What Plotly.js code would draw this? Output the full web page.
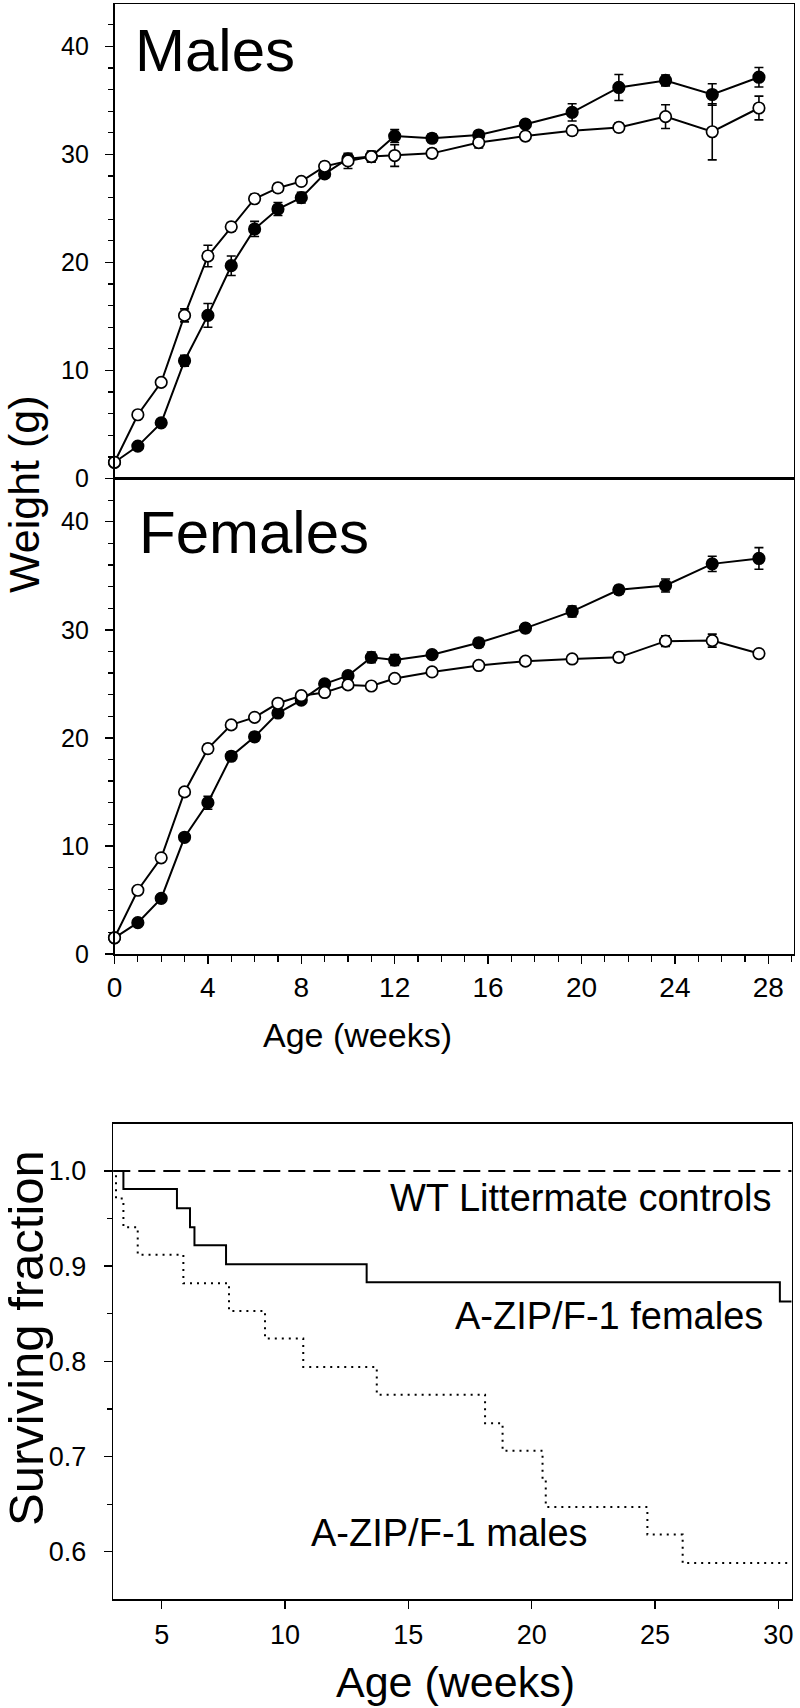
<!DOCTYPE html>
<html><head><meta charset="utf-8">
<script src="https://cdn.plot.ly/plotly-3.0.1.min.js"></script>
<style>html,body{margin:0;padding:0;background:#fff}#chart{width:800px;height:1708px}</style>
</head><body><div id="chart"></div>
<script>
// ---- Weight curves (g) ----
const ageWeeks = [0,1,2,3,4,5,6,7,8,9,10,11,12,13.6,15.6,17.6,19.6,21.6,23.6,25.6,27.6];

const malesWT      = [1.5,5.9,8.9,15.1,20.6,23.3,25.9,26.9,27.5,28.9,29.4,29.8,29.9,30.1,31.1,31.7,32.2,32.5,33.5,32.1,34.3];
const malesWTErr   = [0.2,0.2,0.2,0.6,1.0,0.4,0.4,0.4,0.3,0.4,0.7,0.5,1.0,0.4,0.5,0.4,0.4,0.4,1.1,2.6,1.1];
const malesAZIP    = [1.5,3.0,5.15,10.9,15.1,19.7,23.1,24.95,26.0,28.2,29.6,29.8,31.7,31.5,31.8,32.8,33.9,36.2,36.85,35.55,37.15];
const malesAZIPErr = [0.2,0.2,0.3,0.5,1.1,0.9,0.7,0.6,0.5,0.4,0.4,0.5,0.6,0.4,0.3,0.4,0.8,1.2,0.5,1.0,0.9];

const femalesWT      = [1.5,5.9,8.9,15.0,19.0,21.2,21.9,23.2,23.9,24.2,24.9,24.8,25.5,26.1,26.7,27.1,27.3,27.45,28.95,29.0,27.8];
const femalesWTErr   = [0.2,0.2,0.2,0.2,0.4,0.2,0.2,0.2,0.2,0.2,0.2,0.2,0.2,0.2,0.2,0.2,0.2,0.4,0.5,0.6,0.2];
const femalesAZIP    = [1.5,2.9,5.15,10.8,14.0,18.3,20.1,22.3,23.5,25.0,25.75,27.45,27.2,27.7,28.8,30.15,31.7,33.7,34.1,36.1,36.6];
const femalesAZIPErr = [0.2,0.2,0.2,0.3,0.6,0.4,0.4,0.3,0.3,0.3,0.3,0.5,0.5,0.3,0.4,0.4,0.5,0.4,0.6,0.7,1.0];

// ---- Survival (Kaplan-Meier steps) ----
const survWTAge = [3.04, 30.54];
const survWT    = [1.0, 1.0];
const survFemAge = [3.04, 3.45, 5.62, 6.15, 6.33, 7.61, 13.31, 30.06, 30.54];
const survFem    = [1.0, 0.981, 0.961, 0.941, 0.922, 0.902, 0.883, 0.863, 0.863];
const survMaleAge = [3.04, 3.15, 3.45, 4.03, 5.88, 7.73, 9.19, 10.74, 13.72, 18.11, 18.82, 20.44, 20.57, 24.69, 26.12, 30.54];
const survMale    = [1.0, 0.971, 0.941, 0.912, 0.882, 0.853, 0.824, 0.794, 0.765, 0.735, 0.706, 0.676, 0.647, 0.618, 0.588, 0.588];

const weightTickVals = [0,10,20,30,40];
const ageTickVals = [0,4,8,12,16,20,24,28];
const survAgeTickVals = [5,10,15,20,25,30];
const survTickVals = [0.6,0.7,0.8,0.9,1.0];

const FONT = 'Liberation Sans, Arial, Helvetica, sans-serif';
const W = 800, H = 1708;
const px = v => v / W;
const py = v => 1 - v / H;

function wtrace(y, err, xa, ya, filled) {
  return {
    x: ageWeeks, y: y, xaxis: xa, yaxis: ya, type: 'scatter', mode: 'lines+markers',
    cliponaxis: false,
    line: {color: '#000', width: 2},
    marker: {symbol: 'circle', size: 11.5, color: filled ? '#000' : '#fff', line: {color: '#000', width: 1.7}},
    error_y: {type: 'data', array: err, visible: true, color: '#000', thickness: 1.6, width: 4.5},
    showlegend: false, hoverinfo: 'skip'
  };
}

const data = [
  wtrace(malesAZIP, malesAZIPErr, 'x', 'y', true),
  wtrace(malesWT, malesWTErr, 'x', 'y', false),
  wtrace(femalesAZIP, femalesAZIPErr, 'x2', 'y2', true),
  wtrace(femalesWT, femalesWTErr, 'x2', 'y2', false),
  {x: survWTAge, y: survWT, xaxis: 'x3', yaxis: 'y3', type: 'scatter', mode: 'lines',
   line: {color: '#000', width: 2, dash: '17px,8px'}, showlegend: false, hoverinfo: 'skip'},
  {x: survFemAge, y: survFem, xaxis: 'x3', yaxis: 'y3', type: 'scatter', mode: 'lines',
   line: {color: '#000', width: 2, shape: 'hv'}, showlegend: false, hoverinfo: 'skip'},
  {x: survMaleAge, y: survMale, xaxis: 'x3', yaxis: 'y3', type: 'scatter', mode: 'lines',
   line: {color: '#000', width: 2, shape: 'hv', dash: '2px,5px'}, showlegend: false, hoverinfo: 'skip'}
];

const axBase = {showgrid: false, zeroline: false, showline: true, mirror: true, linecolor: '#000', linewidth: 1.6,
  tickcolor: '#000', tickwidth: 1.5, fixedrange: true};

const layout = {
  width: W, height: H, margin: {l: 0, r: 0, t: 0, b: 0},
  paper_bgcolor: '#fff', plot_bgcolor: '#fff',
  font: {family: FONT, color: '#000'},
  xaxis: Object.assign({}, axBase, {anchor: 'y', domain: [px(114.5), px(793.5)], range: [0, 29.08],
    ticks: '', showticklabels: false}),
  yaxis: Object.assign({}, axBase, {anchor: 'x', domain: [py(478.5), py(4.3)], range: [0, 43.9],
    tickmode: 'array', tickvals: weightTickVals, ticks: 'outside', ticklen: 8, ticklabelstandoff: 11,
    tickfont: {size: 25, family: FONT, color: '#000'},
    minor: {tickmode: 'linear', tick0: 0, dtick: 2, ticks: 'outside', ticklen: 5, tickcolor: '#000', tickwidth: 1.2}}),
  xaxis2: Object.assign({}, axBase, {anchor: 'y2', domain: [px(114.5), px(793.5)], range: [0, 29.08],
    tickmode: 'array', tickvals: ageTickVals, ticks: 'outside', ticklen: 8, ticklabelstandoff: 0,
    tickfont: {size: 28, family: FONT, color: '#000'},
    minor: {tickmode: 'linear', tick0: 0, dtick: 1, ticks: 'outside', ticklen: 6, tickcolor: '#000', tickwidth: 1.2}}),
  yaxis2: Object.assign({}, axBase, {anchor: 'x2', domain: [py(954), py(478.5)], range: [0, 44],
    tickmode: 'array', tickvals: weightTickVals, ticks: 'outside', ticklen: 8, ticklabelstandoff: 11,
    tickfont: {size: 25, family: FONT, color: '#000'},
    minor: {tickmode: 'linear', tick0: 0, dtick: 2, ticks: 'outside', ticklen: 5, tickcolor: '#000', tickwidth: 1.2}}),
  xaxis3: Object.assign({}, axBase, {anchor: 'y3', domain: [px(113.3), px(791.7)], range: [3.04, 30.54],
    tickmode: 'array', tickvals: survAgeTickVals, ticks: 'outside', ticklen: 8, ticklabelstandoff: 3,
    tickfont: {size: 27, family: FONT, color: '#000'}}),
  yaxis3: Object.assign({}, axBase, {anchor: 'x3', domain: [py(1599), py(1124)], range: [0.5503, 1.0494],
    tickmode: 'array', tickvals: survTickVals, ticktext: survTickVals.map(v => v.toFixed(1)),
    ticks: 'outside', ticklen: 8, ticklabelstandoff: 12,
    tickfont: {size: 27, family: FONT, color: '#000'},
    minor: {tickmode: 'linear', tick0: 0, dtick: 0.05, ticks: 'outside', ticklen: 5, tickcolor: '#000', tickwidth: 1.2}}),
  annotations: [
    {text: 'Males', xref: 'paper', yref: 'paper', x: px(133), y: py(51), xanchor: 'left', yanchor: 'middle',
     showarrow: false, font: {size: 60, family: FONT, color: '#000'}},
    {text: 'Females', xref: 'paper', yref: 'paper', x: px(137), y: py(532), xanchor: 'left', yanchor: 'middle',
     showarrow: false, font: {size: 60, family: FONT, color: '#000'}},
    {text: 'Weight (g)', xref: 'paper', yref: 'paper', x: px(24), y: py(494), xanchor: 'center', yanchor: 'middle',
     textangle: -90, showarrow: false, font: {size: 43, family: FONT, color: '#000'}},
    {text: 'Age (weeks)', xref: 'paper', yref: 'paper', x: px(357), y: py(1035), xanchor: 'center', yanchor: 'middle',
     showarrow: false, font: {size: 34, family: FONT, color: '#000'}},
    {text: 'WT Littermate controls', xref: 'paper', yref: 'paper', x: px(774), y: py(1198), xanchor: 'right', yanchor: 'middle',
     showarrow: false, font: {size: 38, family: FONT, color: '#000'}},
    {text: 'A-ZIP/F-1 females', xref: 'paper', yref: 'paper', x: px(765), y: py(1316), xanchor: 'right', yanchor: 'middle',
     showarrow: false, font: {size: 38, family: FONT, color: '#000'}},
    {text: 'A-ZIP/F-1 males', xref: 'paper', yref: 'paper', x: px(309), y: py(1533), xanchor: 'left', yanchor: 'middle',
     showarrow: false, font: {size: 38, family: FONT, color: '#000'}},
    {text: 'Surviving fraction', xref: 'paper', yref: 'paper', x: px(26), y: py(1338), xanchor: 'center', yanchor: 'middle',
     textangle: -90, showarrow: false, font: {size: 49, family: FONT, color: '#000'}},
    {text: 'Age (weeks)', xref: 'paper', yref: 'paper', x: px(455), y: 0, xanchor: 'center', yanchor: 'bottom',
     showarrow: false, font: {size: 43, family: FONT, color: '#000'}}
  ]
};

Plotly.newPlot('chart', data, layout, {staticPlot: true, displayModeBar: false});
</script>
</body></html>
